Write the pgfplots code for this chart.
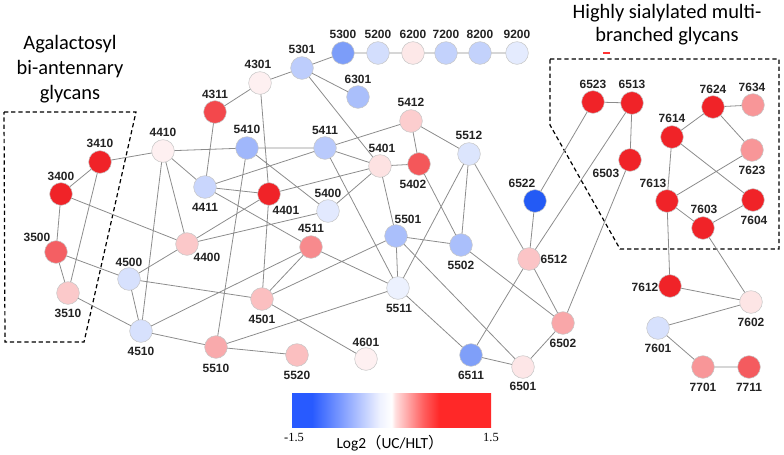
\documentclass[border=0pt]{standalone}
\usepackage{pgfplots}
\pgfplotsset{compat=1.18}
\usepackage{pgfplotstable}
\usepackage{fontspec}
\setmainfont{Carlito}
\newfontfamily\lsans{Liberation Sans}
\newfontfamily\lserif{Liberation Serif}
\newfontfamily\cjk{Noto Sans CJK JP}
\definecolor{cbblue}{RGB}{40,90,255}
\definecolor{cbblue2}{RGB}{238,241,255}
\definecolor{cbpink}{RGB}{255,222,222}
\definecolor{cbmid}{RGB}{255,95,95}
\definecolor{cbred}{RGB}{255,40,40}
\definecolor{edgegray}{RGB}{140,140,140}
\definecolor{labtxt}{RGB}{35,35,35}
\pgfdeclarehorizontalshading{cbar}{100bp}{color(0bp)=(cbblue); color(25bp)=(cbblue); color(30bp)=(cbblue); color(47bp)=(cbblue2); color(50bp)=(white); color(51bp)=(cbpink); color(58bp)=(cbmid); color(62bp)=(cbred); color(75bp)=(cbred); color(100bp)=(cbred)}

\pgfplotstableread{
x y v
100 162 1.5
61 194 1.5
56 252 1.09
68 293 0.37
163 151 0.1
215 112 1.25
260 83 0.1
302 68 -0.45
343 53 -0.89
378 53 -0.3
413 53 0.16
446 53 -0.41
480 53 -0.41
517 53 -0.18
358 97 -0.58
247 148 -0.65
325 148 -0.48
411 121 0.34
380 166 0.2
419 164 1.15
469 154 -0.24
328 211 -0.2
269 194 1.5
205 187 -0.37
187 244 0.375
129 279 -0.27
141 331 -0.27
311 247 0.8
262 299 0.44
396 236 -0.58
461 245 -0.58
398 288 -0.13
216 347 0.58
297 355 0.44
366 359 0.1
471 355 -0.87
523 367 0.17
563 323 0.6
529 259 0.4
535 201 -1.5
593 102 1.5
632 103 1.5
630 160 1.5
713 107 1.5
753 105 0.72
672 137 1.5
752 150 0.72
667 201 1.5
703 228 1.5
753 200 1.5
670 286 1.5
751 302 0.18
658 328 -0.27
703 367 0.72
749 367 1.12
}\nodetable

\pgfplotstableread{
x y
100 162
163 151
nan nan
100 162
61 194
nan nan
100 162
68 293
nan nan
61 194
56 252
nan nan
61 194
187 244
nan nan
56 252
68 293
nan nan
56 252
129 279
nan nan
68 293
141 331
nan nan
163 151
247 148
nan nan
163 151
205 187
nan nan
163 151
187 244
nan nan
163 151
141 331
nan nan
215 112
205 187
nan nan
215 112
260 83
nan nan
260 83
302 68
nan nan
260 83
269 194
nan nan
302 68
343 53
378 53
413 53
446 53
480 53
517 53
nan nan
302 68
358 97
nan nan
302 68
380 166
nan nan
247 148
325 148
nan nan
247 148
328 211
nan nan
247 148
216 347
nan nan
205 187
325 148
nan nan
205 187
269 194
nan nan
205 187
311 247
nan nan
269 194
187 244
nan nan
269 194
262 299
nan nan
269 194
380 166
nan nan
187 244
328 211
nan nan
187 244
129 279
nan nan
129 279
141 331
nan nan
129 279
262 299
nan nan
141 331
311 247
nan nan
141 331
216 347
nan nan
325 148
411 121
nan nan
325 148
380 166
nan nan
325 148
398 288
nan nan
380 166
328 211
nan nan
380 166
419 164
nan nan
380 166
396 236
nan nan
411 121
419 164
nan nan
411 121
469 154
nan nan
419 164
461 245
nan nan
469 154
461 245
nan nan
469 154
398 288
nan nan
469 154
529 259
nan nan
396 236
461 245
nan nan
396 236
398 288
nan nan
396 236
523 367
nan nan
396 236
262 299
nan nan
311 247
262 299
nan nan
311 247
398 288
nan nan
262 299
366 359
nan nan
216 347
297 355
nan nan
216 347
398 288
nan nan
398 288
471 355
nan nan
461 245
563 323
nan nan
529 259
535 201
nan nan
529 259
632 103
nan nan
529 259
563 323
nan nan
529 259
471 355
nan nan
535 201
593 102
nan nan
593 102
632 103
nan nan
632 103
630 160
nan nan
630 160
563 323
nan nan
563 323
523 367
nan nan
471 355
523 367
nan nan
672 137
713 107
nan nan
713 107
753 105
nan nan
713 107
752 150
nan nan
672 137
753 200
nan nan
672 137
667 201
nan nan
667 201
752 150
nan nan
667 201
703 228
nan nan
703 228
753 200
nan nan
667 201
670 286
nan nan
703 228
751 302
nan nan
670 286
751 302
nan nan
751 302
658 328
nan nan
658 328
703 367
nan nan
703 367
749 367
}\edgetable

\newcommand{\lab}[3]{\node[font=\lsans\bfseries\fontsize{9}{10}\selectfont, text=labtxt, inner sep=0pt] at (axis cs:#1,#2) {#3};}

\begin{document}
\begin{tikzpicture}
\begin{axis}[
  scale only axis, width=588bp, height=341.25bp,
  xmin=0, xmax=784, ymin=0, ymax=455, y dir=reverse,
  hide axis, clip=false,
  unbounded coords=jump,
  colormap={bwr}{rgb255=(35,90,245); rgb255=(255,255,255); rgb255=(240,35,40)},
  point meta min=-1.5, point meta max=1.5,
]
% dashed group boxes
\draw[black, dashed, line width=0.9pt, dash pattern=on 3.2pt off 2.2pt] (axis cs:4,112) -- (axis cs:136,112) -- (axis cs:84,342) -- (axis cs:5,342) -- cycle;
\draw[black, dashed, line width=0.9pt, dash pattern=on 3.2pt off 2.2pt] (axis cs:550,59) -- (axis cs:779,59) -- (axis cs:779,249) -- (axis cs:620,249) -- (axis cs:550,125) -- cycle;
\draw[red!80, line width=0.8pt] (axis cs:603,53) -- (axis cs:610,53);
% edges
\addplot[edgegray, line width=0.6pt, no markers] table[x=x, y=y] {\edgetable};
% nodes
\addplot[scatter, only marks, mark=*, mark size=8.5bp, point meta=explicit,
  scatter/use mapped color={draw=black!22, fill=mapped color, line width=0.4pt}]
  table[x=x, y=y, meta=v] {\nodetable};
% labels
\lab{100}{143}{3410}
\lab{61}{176}{3400}
\lab{37}{237}{3500}
\lab{68}{313}{3510}
\lab{163}{132}{4410}
\lab{215}{94}{4311}
\lab{258}{64}{4301}
\lab{302}{49}{5301}
\lab{343}{34}{5300}
\lab{378}{34}{5200}
\lab{413}{34}{6200}
\lab{446}{34}{7200}
\lab{480}{34}{8200}
\lab{517}{34}{9200}
\lab{358}{79}{6301}
\lab{247}{129}{5410}
\lab{325}{130}{5411}
\lab{411}{102}{5412}
\lab{382}{148}{5401}
\lab{413}{184}{5402}
\lab{469}{135}{5512}
\lab{328}{193}{5400}
\lab{286}{210}{4401}
\lab{205}{207}{4411}
\lab{207}{257}{4400}
\lab{129}{262}{4500}
\lab{141}{351}{4510}
\lab{311}{228}{4511}
\lab{262}{319}{4501}
\lab{408}{219}{5501}
\lab{461}{265}{5502}
\lab{399}{308}{5511}
\lab{216}{368}{5510}
\lab{297}{375}{5520}
\lab{366}{342}{4601}
\lab{471}{375}{6511}
\lab{523}{386}{6501}
\lab{563}{343}{6502}
\lab{554}{259}{6512}
\lab{522}{183}{6522}
\lab{593}{84}{6523}
\lab{632}{84}{6513}
\lab{606}{173}{6503}
\lab{713}{89}{7624}
\lab{752}{87}{7634}
\lab{672}{118}{7614}
\lab{752}{170}{7623}
\lab{653}{183}{7613}
\lab{704}{209}{7603}
\lab{754}{220}{7604}
\lab{645}{287}{7612}
\lab{751}{322}{7602}
\lab{658}{348}{7601}
\lab{703}{387}{7701}
\lab{749}{387}{7711}
% titles
\node[align=center, font=\fontsize{15.4}{18.75}\selectfont, inner sep=0pt] at (axis cs:70,69) {Agalactosyl\\bi-antennary\\glycans};
\node[align=center, font=\fontsize{15.4}{17.3}\selectfont, inner sep=0pt] at (axis cs:667,24.5) {Highly sialylated multi-\\branched glycans};
% colour bar
\shade[shading=cbar] (axis cs:292,393) rectangle (axis cs:491,427);
\node[font=\lserif\fontsize{9.4}{10}\selectfont, inner sep=0pt] at (axis cs:294,437) {-1.5};
\node[font=\lserif\fontsize{9.4}{10}\selectfont, inner sep=0pt] at (axis cs:491,437) {1.5};
\node[font=\fontsize{11.6}{12}\selectfont, inner sep=0pt] at (axis cs:390,443) {Log2{\cjk （}UC/HLT{\cjk ）}};
\end{axis}
\pgfresetboundingbox
\path (current axis.south west) rectangle (current axis.north east);
\end{tikzpicture}
\end{document}
